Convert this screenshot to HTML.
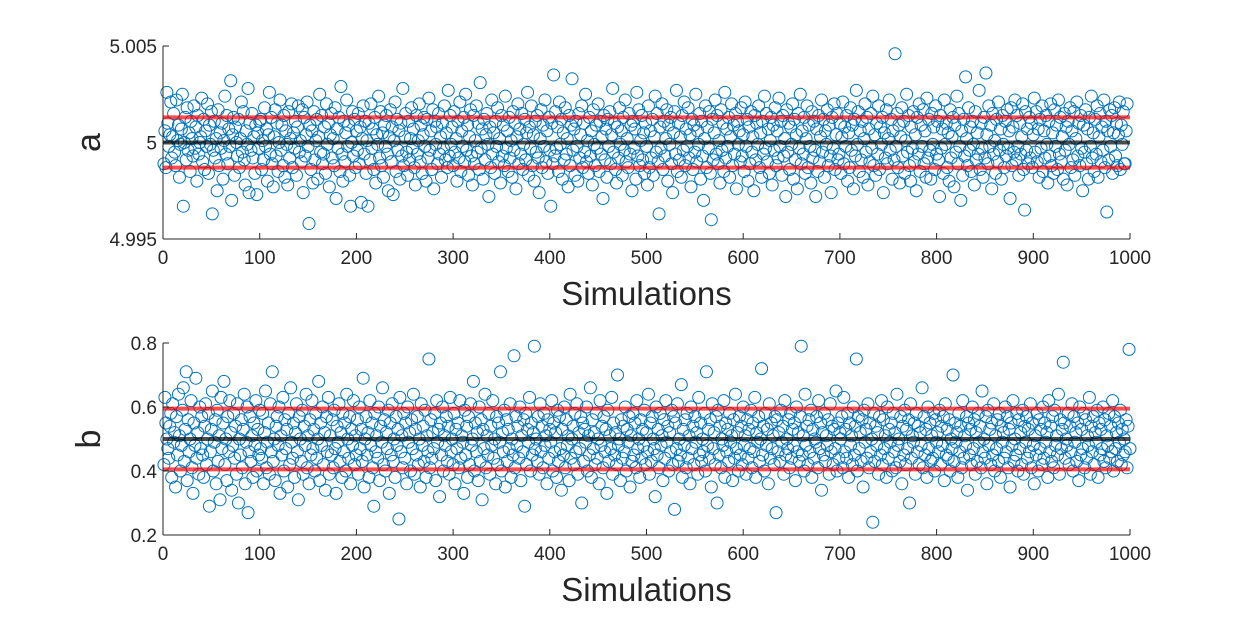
<!DOCTYPE html>
<html><head><meta charset="utf-8"><style>
html,body{margin:0;padding:0;background:#fff;}
svg text{font-family:"Liberation Sans",Arial,sans-serif;fill:#262626;}
</style></head><body>
<svg id="chart" width="1250" height="625" xmlns="http://www.w3.org/2000/svg"></svg>
<script>
// parameter a: offsets from 5 in units of 1e-4
const aVals=[-11,6,-13,26,10,-2,4,21,-8,3,15,-5,-12,22,1,9,-18,-1,7,25,-33,0,13,-9,18,-4,5,-15,11,2,-7,19,-3,8,-20,14,-6,0,3,23,-10,12,-14,6,-2,20,-16,9,-1,16,-37,-4,11,-8,2,-25,17,-12,5,-3,10,-19,1,24,-6,14,-11,7,-2,32,-30,4,13,-17,8,0,-7,12,-13,2,21,-5,16,-9,-22,6,-1,28,-26,10,-4,15,-8,3,-16,9,-27,5,-3,11,
12,-14,1,-9,18,-2,7,-20,4,26,-6,13,-11,-23,3,17,-7,10,-15,0,22,-4,9,-12,14,-18,6,-1,-22,16,-8,2,20,-13,5,-3,11,-17,8,19,-5,1,-10,17,-26,13,-7,4,21,-2,-42,9,-14,6,-21,16,-9,1,12,-19,3,25,-5,14,-11,-6,8,-16,20,-1,10,-23,4,15,-8,2,-12,18,-29,7,-3,13,-15,29,-6,-20,11,-10,5,22,-2,9,-17,-33,0,16,-7,12,-13,6,
-4,15,-11,8,-31,2,19,-6,11,-16,1,-33,10,-9,20,-3,7,-14,13,-21,4,-1,24,-8,16,-12,5,-18,9,-2,14,-6,-25,3,17,-10,8,-27,1,21,-15,12,-4,6,-19,10,-7,28,-12,3,15,-5,-17,11,-9,2,18,-3,7,-13,-22,14,-6,1,20,-10,9,-16,4,13,-2,-20,12,-8,23,-4,6,-14,17,-24,11,-1,8,-11,15,-6,3,-18,10,-3,19,-9,5,-13,27,-7,14,-1,
8,-12,16,-5,2,-20,11,-8,21,-15,6,-2,13,-10,25,-4,9,-17,3,17,-7,-22,14,-11,1,19,-5,10,-14,31,-3,7,-19,12,-9,4,15,-1,-28,8,-13,22,-6,5,-16,11,-2,18,-10,2,-21,14,-7,9,-12,24,-3,6,-15,13,-8,1,-18,16,-4,10,-24,3,20,-11,7,-6,15,-14,-1,12,-9,5,26,-17,8,-3,19,-12,4,-20,11,-5,14,-8,-26,2,17,-13,9,-2,22,-10,6,-16,
13,-4,-33,10,-11,35,-7,16,-3,8,-15,21,-1,12,-19,5,-9,18,-6,2,-23,14,-12,9,33,-4,7,-17,11,-2,-20,15,-8,4,19,-13,10,-5,25,-10,1,-16,13,-7,6,-22,17,-1,-12,9,-3,20,-15,11,-6,3,-29,14,-9,7,-18,12,-2,16,-11,4,28,-5,10,-14,-21,8,-8,18,-1,6,-17,13,-4,22,-10,2,-13,15,-6,9,-25,11,-3,7,-19,26,-7,17,-12,1,14,-9,5,-16,
10,-2,-22,19,-13,6,-8,12,-17,3,24,-5,15,-10,-37,8,-3,20,-14,11,-7,2,17,-20,9,-1,13,-11,-26,5,16,-6,27,-15,10,-9,3,-18,14,-4,21,-12,7,-2,18,-8,4,-23,12,-14,9,-5,25,-10,6,-1,15,-19,11,-7,-30,2,19,-13,8,-3,16,-16,-40,12,-9,5,22,-6,14,-11,1,-21,17,-4,10,-15,26,-8,7,-2,13,-18,3,20,-12,9,-6,15,-24,11,-1,6,-10,18,
-7,4,-15,21,-2,12,-20,8,-11,16,-5,3,-25,14,-9,10,-1,19,-13,5,-18,11,-6,24,-3,15,-10,7,-16,1,13,-22,9,-4,18,-12,6,-8,23,-2,11,-17,14,-7,2,-28,17,-5,10,-14,8,-1,20,-19,12,-9,4,-24,15,-3,25,-11,6,-6,13,-16,2,19,-13,9,-2,-21,16,-8,11,-4,-28,7,-15,14,-10,3,22,-5,12,-18,6,-1,17,-12,9,-7,-26,13,-3,20,-14,4,15,-9,
-6,10,-16,3,21,-11,8,-2,14,-20,5,-13,18,-4,9,-24,12,-7,27,-1,16,-15,6,-9,11,-18,2,20,-5,13,-22,7,-10,15,-3,24,-12,4,-17,10,-6,19,-14,8,-1,13,-26,5,-8,17,-11,2,22,-4,12,-19,6,-9,46,-2,15,-13,9,-21,3,18,-7,11,-16,1,25,-5,14,-12,-20,8,-3,16,-10,4,-25,13,-6,20,-15,9,-2,17,-11,6,-18,23,-8,12,-4,-19,15,-1,8,-14,
19,-6,11,-9,-28,14,-3,7,-16,22,-1,10,-13,5,-20,17,-8,3,13,-23,9,-5,24,-11,15,-2,-30,6,-17,12,-7,34,2,-12,18,-4,8,-15,11,-1,-22,16,-9,5,-6,27,-14,10,-3,-18,13,-8,36,4,-11,19,-2,9,-24,15,-6,1,-16,12,-10,21,-4,7,-19,14,-1,-13,11,-7,17,-3,6,-29,18,-12,8,-5,22,-9,14,-2,-17,10,-6,3,20,-14,-35,16,-4,7,-11,13,-8,
10,-13,4,23,-5,16,-10,7,-18,12,-3,19,-15,6,-8,14,-1,-21,11,-7,20,-12,5,-16,17,-2,9,-14,22,-6,13,-10,3,-19,15,-4,8,-22,11,-1,18,-13,6,-9,16,-17,2,21,-7,10,-12,14,-3,-25,9,-5,17,-11,7,-19,13,-2,24,-8,5,-15,12,-6,19,-18,3,15,-10,8,-4,22,-13,11,-36,6,-9,17,-2,14,-16,5,18,-7,10,-12,4,21,-14,9,-1,16,-11,-11,6,20];
// parameter b: values in units of 0.01
const bVals=[42,63,55,50,47,44,54,58,38,61,49,52,35,57,45,64,51,40,48,59,66,43,53,71,37,56,46,50,62,41,33,55,48,69,44,52,39,60,47,57,45,38,54,61,42,50,58,29,46,53,65,40,49,56,36,59,43,51,31,63,47,55,68,42,50,37,57,46,62,52,34,48,58,44,54,39,61,30,50,45,56,41,53,64,36,49,60,27,46,57,43,51,38,55,48,62,40,53,45,59,
47,44,58,36,52,65,41,49,55,39,61,46,71,43,50,37,54,57,48,60,33,51,45,63,40,56,47,53,35,58,42,66,49,44,55,38,52,61,46,31,57,50,43,59,39,54,48,64,41,51,36,56,45,62,47,53,40,58,44,50,68,37,55,48,60,42,52,34,57,46,63,39,51,45,56,41,59,47,33,54,49,61,43,52,38,58,46,55,40,64,50,44,57,36,53,48,62,42,51,45,
56,39,60,47,53,43,69,35,50,57,45,52,38,62,48,55,41,29,58,46,51,44,60,37,54,49,66,42,56,40,52,47,59,33,55,45,61,43,50,38,57,48,53,25,63,46,51,41,58,44,55,36,60,49,52,40,56,47,64,39,53,45,57,42,50,35,61,48,54,43,59,38,51,46,75,41,56,44,52,47,58,37,62,49,53,32,55,45,60,40,51,48,57,43,54,39,63,46,50,42,
58,36,53,47,55,41,62,44,51,49,33,59,45,54,38,57,42,61,48,50,68,40,55,46,52,37,60,43,56,31,53,47,64,41,51,45,58,39,54,48,62,44,50,36,57,42,55,49,71,40,52,46,59,35,56,43,53,47,61,38,50,45,76,41,57,48,54,44,60,37,51,46,56,29,58,42,53,49,63,40,55,45,52,79,47,50,43,57,39,61,46,54,41,58,48,51,36,56,44,53,
49,62,40,55,46,52,38,59,43,57,47,34,53,45,60,41,56,48,51,37,64,44,50,54,42,58,46,61,39,52,47,57,30,55,43,53,49,60,40,51,45,66,38,56,47,52,42,58,44,50,36,62,48,54,41,57,46,53,33,59,43,51,47,63,39,55,45,52,42,70,48,50,37,56,44,54,46,60,40,53,49,57,35,51,43,58,45,55,41,62,47,50,38,56,44,53,48,59,42,52,
46,64,39,55,43,57,50,47,32,60,45,53,41,58,48,51,37,56,44,62,49,54,40,52,46,59,42,57,28,55,47,61,43,50,45,67,38,53,48,56,41,58,44,51,36,60,47,54,42,57,49,52,39,63,45,55,43,50,46,58,40,71,48,53,44,56,35,61,47,52,42,57,30,59,45,54,41,50,48,62,38,55,46,53,43,58,49,51,37,56,44,64,47,52,40,57,45,54,42,60,
48,51,39,56,44,53,47,59,41,55,46,63,38,52,49,57,43,50,72,45,54,40,58,48,53,36,61,44,55,47,51,42,57,27,56,46,52,43,59,49,54,39,62,45,50,47,56,41,58,44,53,48,55,37,60,46,52,43,57,79,45,51,40,64,48,54,42,56,46,59,38,53,44,50,49,57,41,62,47,55,34,52,45,58,43,51,48,56,39,61,46,54,42,53,47,65,40,55,44,52,
50,57,41,63,46,53,44,58,38,55,48,51,42,60,45,54,75,40,57,47,52,43,56,35,59,49,53,44,61,41,55,46,50,24,58,43,54,48,52,39,57,45,62,42,56,47,51,38,60,44,53,49,55,40,58,46,52,41,64,48,50,43,57,36,54,45,59,42,53,47,56,30,61,44,51,49,55,39,58,46,54,42,52,48,66,41,57,45,53,38,60,47,55,43,51,44,58,40,56,49,
52,46,59,42,54,48,57,37,61,45,53,44,56,40,50,47,70,43,55,49,52,38,58,46,54,41,62,44,51,48,57,34,55,45,53,42,60,47,56,39,52,43,58,49,54,41,65,46,50,44,57,36,59,48,53,42,55,45,61,40,51,47,56,43,58,38,54,49,52,44,60,46,57,41,53,35,55,48,62,43,50,45,58,40,56,47,52,42,59,39,54,49,57,44,53,46,61,41,55,48,
36,51,45,58,40,56,47,53,42,60,44,55,49,52,38,62,46,54,43,57,41,59,48,51,45,64,39,56,47,53,74,55,44,50,48,58,42,54,46,61,40,57,49,52,43,55,37,60,45,53,47,58,41,56,44,51,48,63,39,54,46,57,42,52,49,59,38,55,45,53,47,60,43,56,41,51,48,58,44,54,46,62,40,57,47,52,43,55,49,59,42,53,45,50,46,56,41,54,78,47];

const NS='http://www.w3.org/2000/svg';
const svg=document.getElementById('chart');
function mk(tag,attrs,parent){const e=document.createElementNS(NS,tag);for(const k in attrs)e.setAttribute(k,attrs[k]);(parent||svg).appendChild(e);return e;}

const X0=163,X1=1130;
const xScale=i=>X0+(i/1000)*(X1-X0);

function panel(name,yTop,yBot,vmin,vmax,vals,toVal,ticks,tickLabels,center,band,yTitle){
  const g=mk('g',{});
  
  
  const ys=v=>yBot-(v-vmin)/(vmax-vmin)*(yBot-yTop);
  const pts=mk('g',{},g);
  
  
  for(let i=0;i<vals.length;i++){
    const c=mk('circle',{cx:xScale(i+1),cy:ys(toVal(vals[i])),r:6,fill:'none',stroke:'#0072BD','stroke-width':1},pts);
    
    
  }
  const up=mk('line',{x1:X0,x2:X1,y1:ys(center+band),y2:ys(center+band),stroke:'#ff0000','stroke-opacity':0.7,'stroke-width':4},g);
  
  
  const lo=mk('line',{x1:X0,x2:X1,y1:ys(center-band),y2:ys(center-band),stroke:'#ff0000','stroke-opacity':0.7,'stroke-width':4},g);
  
  
  const mid=mk('line',{x1:X0,x2:X1,y1:ys(center),y2:ys(center),stroke:'#000','stroke-opacity':0.7,'stroke-width':4},g);
  
  
  mk('line',{x1:X0,x2:X0,y1:yTop,y2:yBot,stroke:'#262626','stroke-width':1},g);
  mk('line',{x1:X0,x2:X1,y1:yBot,y2:yBot,stroke:'#262626','stroke-width':1},g);
  for(let k=0;k<=10;k++){
    const x=xScale(k*100);
    mk('line',{x1:x,x2:x,y1:yBot,y2:yBot-6,stroke:'#262626'},g);
    const t=mk('text',{x:x,y:yBot+25,'text-anchor':'middle','font-size':19},g);
    t.textContent=String(k*100);
    
    
  }
  ticks.forEach((v,j)=>{
    const y=ys(v);
    mk('line',{x1:X0,x2:X0+6,y1:y,y2:y,stroke:'#262626'},g);
    const t=mk('text',{x:X0-6,y:y+7,'text-anchor':'end','font-size':19},g);
    t.textContent=tickLabels[j];
    
    
  });
  const xl=mk('text',{x:(X0+X1)/2,y:yBot+66,'text-anchor':'middle','font-size':33},g);
  xl.textContent='Simulations';
  
  
  const yl=mk('text',{x:0,y:0,'text-anchor':'middle','font-size':34,transform:`translate(100,${(yTop+yBot)/2}) rotate(-90)`},g);
  yl.textContent=yTitle;
  
  
}
const aTicks=[4.995,5,5.005], aTickLabels=['4.995','5','5.005'];
const bTicks=[0.2,0.4,0.6,0.8], bTickLabels=['0.2','0.4','0.6','0.8'];
panel('a',46,239,4.995,5.005,aVals,v=>5+v*1e-4,aTicks,aTickLabels,5,0.0013,'a');
panel('b',343,535,0.2,0.8,bVals,v=>v/100,bTicks,bTickLabels,0.5,0.095,'b');
</script>
</body></html>
